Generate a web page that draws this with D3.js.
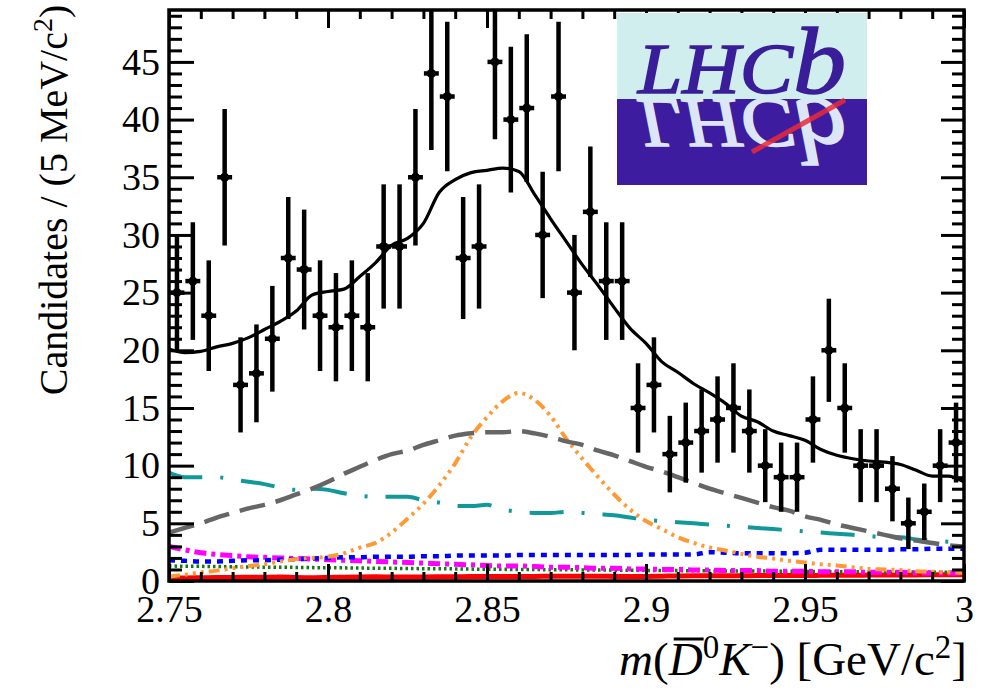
<!DOCTYPE html>
<html>
<head>
<meta charset="utf-8">
<script src="https://cdn.jsdelivr.net/npm/d3@7/dist/d3.min.js"></script>
<style>
  html, body { margin: 0; padding: 0; background: #fff; }
  svg { display: block; font-family: "Liberation Serif", "Times New Roman", serif; }
</style>
</head>
<body>
<svg id="chart" width="987" height="692"></svg>
<script>
// ---- data -------------------------------------------------------------
// bin centres of the 5 MeV histogram, GeV/c^2
const binCentres = [
  2.7525, 2.7575, 2.7625, 2.7675, 2.7725, 2.7775, 2.7825, 2.7875, 2.7925, 2.7975,
  2.8025, 2.8075, 2.8125, 2.8175, 2.8225, 2.8275, 2.8325, 2.8375, 2.8425, 2.8475,
  2.8525, 2.8575, 2.8625, 2.8675, 2.8725, 2.8775, 2.8825, 2.8875, 2.8925, 2.8975,
  2.9025, 2.9075, 2.9125, 2.9175, 2.9225, 2.9275, 2.9325, 2.9375, 2.9425, 2.9475,
  2.9525, 2.9575, 2.9625, 2.9675, 2.9725, 2.9775, 2.9825, 2.9875, 2.9925, 2.9975
];
// candidates per bin
const counts = [
  25, 26, 23, 35, 17, 18, 21, 28, 27, 23,
  22, 23, 22, 29, 29, 35, 44, 42, 28, 29,
  45, 40, 41, 30, 42, 25, 32, 26, 26, 15,
  17, 11, 12, 13, 14, 15, 13, 10, 9, 9,
  14, 20, 15, 10, 10, 8, 5, 6, 10, 12
];

// mass grid on which the fit components are evaluated
const curveMass = [
  2.750, 2.755, 2.760, 2.765, 2.770, 2.775, 2.780, 2.785, 2.790, 2.795,
  2.800, 2.805, 2.810, 2.815, 2.820, 2.825, 2.830, 2.835, 2.840, 2.845,
  2.850, 2.855, 2.860, 2.865, 2.870, 2.875, 2.880, 2.885, 2.890, 2.895,
  2.900, 2.905, 2.910, 2.915, 2.920, 2.925, 2.930, 2.935, 2.940, 2.945,
  2.950, 2.955, 2.960, 2.965, 2.970, 2.975, 2.980, 2.985, 2.990, 2.995,
  3.000
];
// total fit
const fitTotal = [
  20.1, 19.8, 19.9, 20.3, 20.6, 21.1, 21.8, 22.5, 23.4, 24.8,
  25.1, 25.3, 26.4, 27.6, 29.1, 29.7, 31.0, 33.7, 34.8, 35.4,
  35.6, 35.8, 35.5, 33.5, 31.4, 29.4, 27.4, 25.6, 23.7, 21.9,
  20.6, 19.0, 18.1, 17.1, 16.3, 15.4, 14.3, 13.8, 13.0, 12.6,
  12.2, 11.4, 10.9, 10.6, 10.4, 10.3, 10.1, 9.6, 9.1, 9.1,
  8.6
];
// broad component (grey long dashes)
const compGrey = [
  4.2, 4.6, 5.0, 5.5, 5.9, 6.3, 6.6, 7.0, 7.5, 8.0,
  8.6, 9.3, 9.9, 10.5, 11.0, 11.3, 11.8, 12.2, 12.6, 12.8,
  12.9, 12.9, 13.0, 12.8, 12.5, 12.1, 11.8, 11.3, 10.9, 10.4,
  9.9, 9.5, 9.0, 8.5, 8.0, 7.6, 7.2, 6.8, 6.4, 6.1,
  5.6, 5.3, 4.9, 4.6, 4.3, 4.0, 3.7, 3.5, 3.3, 3.1,
  3.0
];
// teal dash-dot component
const compTeal = [
  9.4, 9.0, 9.0, 9.0, 8.8, 8.6, 8.4, 8.1, 7.9, 8.0,
  7.9, 7.6, 7.4, 7.3, 7.3, 7.3, 7.0, 6.8, 6.5, 6.5,
  6.6, 6.2, 6.0, 5.9, 5.9, 6.0, 5.9, 5.8, 5.7, 5.5,
  5.3, 5.2, 5.1, 5.0, 4.9, 4.8, 4.7, 4.6, 4.5, 4.4,
  4.3, 4.2, 4.1, 4.0, 3.9, 3.8, 3.8, 3.6, 3.5, 3.4,
  3.3
];
// narrow resonance (orange)
const compOrange = [
  0.4, 0.55, 0.75, 0.9, 1.1, 1.3, 1.45, 1.7, 1.9, 2.0,
  2.1, 2.4, 2.9, 3.3, 4.2, 5.4, 6.7, 8.3, 10.2, 12.5,
  14.2, 15.6, 16.3, 15.7, 14.3, 12.3, 10.6, 9.0, 7.5, 6.2,
  5.2, 4.5, 3.8, 3.3, 2.9, 2.65, 2.35, 2.1, 1.95, 1.75,
  1.6, 1.45, 1.35, 1.2, 1.05, 1.0, 0.95, 0.85, 0.8, 0.75,
  0.7
];
// blue dotted component
const compBlue = [
  1.8, 1.75, 1.7, 1.7, 1.75, 1.8, 1.8, 1.85, 1.9, 1.95,
  2.0, 2.05, 2.05, 2.1, 2.1, 2.1, 2.15, 2.15, 2.2, 2.2,
  2.2, 2.2, 2.25, 2.25, 2.25, 2.25, 2.25, 2.25, 2.25, 2.25,
  2.3, 2.3, 2.3, 2.3, 2.5, 2.45, 2.4, 2.4, 2.4, 2.4,
  2.45, 2.7, 2.7, 2.7, 2.7, 2.7, 2.75, 2.75, 2.8, 2.8,
  2.8
];
// magenta dash-dot component
const compMagenta = [
  3.0, 2.7, 2.45, 2.3, 2.2, 2.1, 2.05, 2.0, 1.95, 1.9,
  1.85, 1.8, 1.75, 1.7, 1.65, 1.6, 1.55, 1.5, 1.45, 1.4,
  1.35, 1.3, 1.3, 1.25, 1.2, 1.2, 1.15, 1.1, 1.1, 1.05,
  1.05, 1.0, 1.0, 0.95, 0.95, 0.9, 0.9, 0.9, 0.85, 0.85,
  0.85, 0.8, 0.8, 0.8, 0.75, 0.75, 0.75, 0.7, 0.7, 0.7,
  0.7
];
// green fine-dotted component
const compGreen = [
  1.3, 1.28, 1.27, 1.25, 1.24, 1.22, 1.2, 1.19, 1.18, 1.16,
  1.15, 1.14, 1.12, 1.11, 1.1, 1.08, 1.07, 1.06, 1.05, 1.03,
  1.02, 1.01, 1.0, 0.99, 0.98, 0.97, 0.96, 0.95, 0.94, 0.93,
  0.92, 0.91, 0.9, 0.89, 0.88, 0.87, 0.86, 0.86, 0.85, 0.84,
  0.83, 0.82, 0.81, 0.8, 0.8, 0.79, 0.78, 0.77, 0.77, 0.76,
  0.75
];
// red solid component
const compRed = [
  0.25, 0.26, 0.28, 0.3, 0.31, 0.32, 0.33, 0.34, 0.3, 0.28,
  0.3, 0.33, 0.35, 0.36, 0.35, 0.34, 0.35, 0.36, 0.37, 0.38,
  0.38, 0.39, 0.4, 0.4, 0.41, 0.41, 0.42, 0.42, 0.4, 0.39,
  0.4, 0.42, 0.44, 0.45, 0.45, 0.46, 0.46, 0.47, 0.47, 0.48,
  0.48, 0.49, 0.5, 0.5, 0.51, 0.52, 0.52, 0.53, 0.54, 0.55,
  0.55
];

const xTickValues = [2.75, 2.8, 2.85, 2.9, 2.95, 3];
const xTickLabels = ["2.75", "2.8", "2.85", "2.9", "2.95", "3"];
const yTickValues = [0, 5, 10, 15, 20, 25, 30, 35, 40, 45];
const yTickLabels = ["0", "5", "10", "15", "20", "25", "30", "35", "40", "45"];

// ---- layout -----------------------------------------------------------
const svg = d3.select("#chart");
const plot = { left: 169, right: 964, top: 10, bottom: 581 };

const x = d3.scaleLinear().domain([2.75, 3.0]).range([plot.left, plot.right]);
const y = d3.scaleLinear().domain([0, 49.5]).range([plot.bottom, plot.top]);

const defs = svg.append("defs");
defs.append("clipPath").attr("id", "plotClip")
  .append("rect")
  .attr("x", plot.left).attr("y", plot.top)
  .attr("width", plot.right - plot.left).attr("height", plot.bottom - plot.top);

const layer = svg.append("g").attr("clip-path", "url(#plotClip)");

// ---- fit components ---------------------------------------------------
const components = [
  { values: compRed,     color: "#ff0000", width: 5,   dash: null },
  { values: compGreen,   color: "#117a11", width: 3.5, dash: "2.5,3" },
  { values: compMagenta, color: "#ff00ff", width: 5,   dash: "12,5,4,5" },
  { values: compBlue,    color: "#0000ff", width: 4.5, dash: "6,6" },
  { values: compOrange,  color: "#ff9933", width: 4,   dash: "11,5,3,5,3,5,3,5" },
  { values: compTeal,    color: "#119999", width: 4,   dash: "34,18,3,18" },
  { values: compGrey,    color: "#666666", width: 4.5, dash: "26,11" }
];

const lineFor = vals => d3.line()
  .x((d, i) => x(curveMass[i]))
  .y(d => y(d))
  .curve(d3.curveMonotoneX)(vals);

components.forEach(c => {
  layer.append("path")
    .attr("d", lineFor(c.values))
    .attr("fill", "none")
    .attr("stroke", c.color)
    .attr("stroke-width", c.width)
    .attr("stroke-dasharray", c.dash)
    .attr("stroke-linecap", "butt");
});

// total fit
layer.append("path")
  .attr("d", lineFor(fitTotal))
  .attr("fill", "none")
  .attr("stroke", "#000")
  .attr("stroke-width", 3.2)
  .attr("stroke-linejoin", "round");

// ---- data points ------------------------------------------------------
const pts = layer.append("g").selectAll("g.pt")
  .data(binCentres.map((m, i) => ({ m, n: counts[i] })))
  .join("g").attr("class", "pt");

pts.append("line")
  .attr("x1", d => x(d.m)).attr("x2", d => x(d.m))
  .attr("y1", d => y(d.n - Math.sqrt(d.n)))
  .attr("y2", d => y(d.n + Math.sqrt(d.n)))
  .attr("stroke", "#000").attr("stroke-width", 4.5);

pts.append("line")
  .attr("x1", d => x(d.m - 0.0025) + 0.5).attr("x2", d => x(d.m + 0.0025) - 0.5)
  .attr("y1", d => y(d.n)).attr("y2", d => y(d.n))
  .attr("stroke", "#000").attr("stroke-width", 4.5);

pts.append("circle")
  .attr("cx", d => x(d.m)).attr("cy", d => y(d.n))
  .attr("r", 4.5).attr("fill", "#000");

// ---- axes -------------------------------------------------------------
const xMinor = d3.range(2.76, 2.9999, 0.01).filter(v => Math.abs(v * 20 - Math.round(v * 20)) > 1e-6);
const yMinor = d3.range(1, 50, 1).filter(v => v % 5 !== 0);

function styleAxis(g, fontSize) {
  g.attr("font-family", null);
  g.select(".domain").remove();
  g.selectAll(".tick line").attr("stroke", "#000").attr("stroke-width", 3);
  g.selectAll(".tick text")
    .attr("fill", "#000")
    .style("font-family", "'Liberation Serif', 'Times New Roman', serif")
    .style("font-size", fontSize + "px");
}

svg.append("g").attr("transform", `translate(0,${plot.bottom})`)
  .call(d3.axisBottom(x).tickValues(xTickValues).tickSize(-17).tickPadding(14)
    .tickFormat((d, i) => xTickLabels[i]))
  .call(g => styleAxis(g, 38));
svg.append("g").attr("transform", `translate(0,${plot.bottom})`)
  .call(d3.axisBottom(x).tickValues(xMinor).tickSize(-9).tickFormat(""))
  .call(g => styleAxis(g, 0));
svg.append("g").attr("transform", `translate(0,${plot.top})`)
  .call(d3.axisTop(x).tickValues(xTickValues).tickSize(-18).tickFormat(""))
  .call(g => styleAxis(g, 0));
svg.append("g").attr("transform", `translate(0,${plot.top})`)
  .call(d3.axisTop(x).tickValues(xMinor).tickSize(-9).tickFormat(""))
  .call(g => styleAxis(g, 0));

svg.append("g").attr("transform", `translate(${plot.left},0)`)
  .call(d3.axisLeft(y).tickValues(yTickValues).tickSize(-25).tickPadding(9)
    .tickFormat((d, i) => yTickLabels[i]))
  .call(g => styleAxis(g, 38));
svg.append("g").attr("transform", `translate(${plot.left},0)`)
  .call(d3.axisLeft(y).tickValues(yMinor).tickSize(-13).tickFormat(""))
  .call(g => styleAxis(g, 0));
svg.append("g").attr("transform", `translate(${plot.right},0)`)
  .call(d3.axisRight(y).tickValues(yTickValues).tickSize(-23).tickFormat(""))
  .call(g => styleAxis(g, 0));
svg.append("g").attr("transform", `translate(${plot.right},0)`)
  .call(d3.axisRight(y).tickValues(yMinor).tickSize(-12).tickFormat(""))
  .call(g => styleAxis(g, 0));

// frame
svg.append("rect")
  .attr("x", plot.left).attr("y", plot.top)
  .attr("width", plot.right - plot.left).attr("height", plot.bottom - plot.top)
  .attr("fill", "none").attr("stroke", "#000").attr("stroke-width", 3.5);

// ---- LHCb logo --------------------------------------------------------
const lg = { x: 617, y: 13, w: 250, h: 172, split: 99 };
const logo = svg.append("g");
logo.append("rect").attr("x", lg.x).attr("y", lg.y).attr("width", lg.w)
  .attr("height", lg.split - lg.y).attr("fill", "#d0eeee");
logo.append("rect").attr("x", lg.x).attr("y", lg.split).attr("width", lg.w)
  .attr("height", lg.y + lg.h - lg.split).attr("fill", "#3d1c9f");
defs.append("clipPath").attr("id", "logoLow")
  .append("rect").attr("x", lg.x).attr("y", lg.split).attr("width", lg.w)
  .attr("height", lg.y + lg.h - lg.split);
defs.append("clipPath").attr("id", "logoHigh")
  .append("rect").attr("x", lg.x).attr("y", lg.y).attr("width", lg.w)
  .attr("height", lg.split - lg.y);

function logoWord(parent, fill) {
  const t = parent.append("text")
    .attr("x", 638).attr("y", 93)
    .attr("textLength", 208).attr("lengthAdjust", "spacingAndGlyphs")
    .style("font-family", "'Liberation Serif', 'Times New Roman', serif")
    .style("font-style", "italic")
    .style("stroke", fill).style("stroke-width", 1.5)
    .attr("fill", fill);
  t.append("tspan").style("font-size", "72px").text("LHC");
  t.append("tspan").style("font-size", "96px").text("b");
  return t;
}
// mirrored word in the lower half
logoWord(logo.append("g").attr("clip-path", "url(#logoLow)")
  .append("g").attr("transform", "translate(0,192) scale(1,-1)"), "#dde6f6");
logo.append("line")
  .attr("x1", 752).attr("y1", 152).attr("x2", 845).attr("y2", 100)
  .attr("stroke", "#ea2a3a").attr("stroke-width", 5).attr("opacity", 0.85);
logoWord(logo.append("g").attr("clip-path", "url(#logoHigh)"), "#3a1d98");

// ---- axis titles ------------------------------------------------------
const yTitle = svg.append("text")
  .attr("transform", "translate(67,200) rotate(-90)")
  .attr("text-anchor", "middle")
  .style("font-size", "40px").attr("fill", "#000");
yTitle.append("tspan").text("Candidates / (5 MeV/c");
yTitle.append("tspan").attr("dy", -15).style("font-size", "28px").text("2");
yTitle.append("tspan").attr("dy", 15).text(")");

const xTitle = svg.append("text")
  .attr("x", 967).attr("y", 675)
  .attr("text-anchor", "end")
  .style("font-size", "47px").attr("fill", "#000");
xTitle.append("tspan").style("font-style", "italic").text("m");
xTitle.append("tspan").text("(");
xTitle.append("tspan").style("font-style", "italic").text("D");
xTitle.append("tspan").attr("dy", -17).style("font-size", "33px").text("0");
xTitle.append("tspan").attr("dy", 17).style("font-style", "italic").text("K");
xTitle.append("tspan").attr("dy", -17).style("font-size", "33px").text("\u2212");
xTitle.append("tspan").attr("dy", 17).text(") [GeV/c");
xTitle.append("tspan").attr("dy", -17).style("font-size", "33px").text("2");
xTitle.append("tspan").attr("dy", 17).text("]");

// bar over the D
const dBox = xTitle.node().getExtentOfChar(2);
svg.append("line")
  .attr("x1", dBox.x + 5).attr("x2", dBox.x + dBox.width + 1)
  .attr("y1", dBox.y + 6).attr("y2", dBox.y + 6)
  .attr("stroke", "#000").attr("stroke-width", 3);
</script>
</body>
</html>
